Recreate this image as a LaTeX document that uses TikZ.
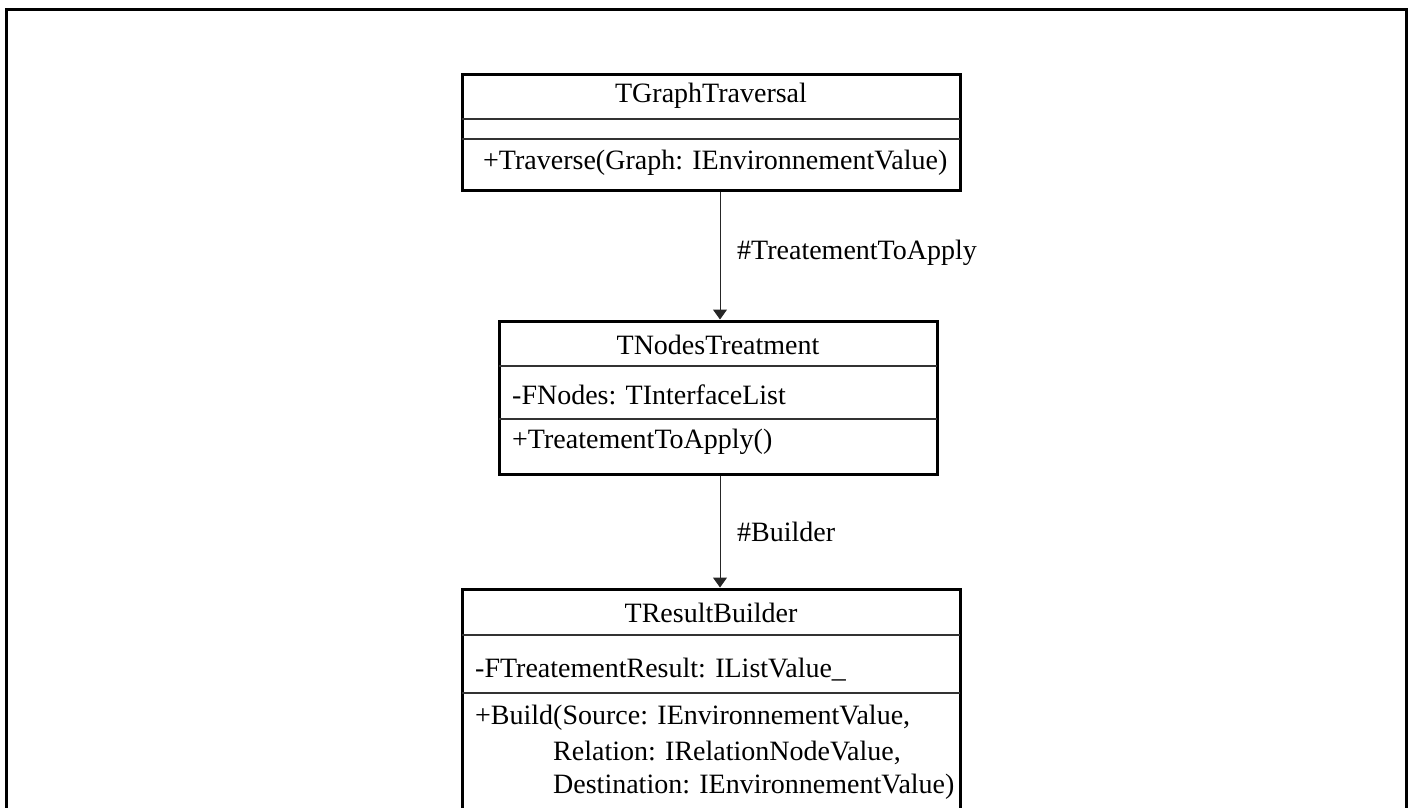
\documentclass[tikz,border=0pt]{standalone}
\usepackage{fontspec}
\setmainfont{Liberation Serif}
\usetikzlibrary{arrows.meta}
\begin{document}
\begin{tikzpicture}[x=1pt,y=-1pt,
  classbox/.style={draw=black,line width=3pt,fill=white,inner sep=0pt,minimum width=#1},
  sepline/.style={draw=black!80,line width=1.1pt},
  txt/.style={inner sep=0pt,font=\fontsize{28}{32}\selectfont},
  assoc/.style={draw=black!85,line width=1pt,-{Triangle[length=10pt,width=14pt]}},
  frame/.style={draw=black,line width=3pt}]
  \useasboundingbox (0,0) rectangle (1410,807);
  % surrounding frame, open at the bottom edge
  \draw[frame] (6,830) -- (6,9) -- (1406,9) -- (1406,830);

  % TGraphTraversal
  \node[classbox=498pt,minimum height=116pt] (trav) at (711,132) {};
  \draw[sepline] (462,119) coordinate (ts1a) -- (960,119) coordinate (ts1b);
  \draw[sepline] (462,139) coordinate (ts2a) -- (960,139) coordinate (ts2b);
  \node[txt] (travname) at (711,96) {TGraphTraversal};
  \node[txt,anchor=west] (travop) at (483,163) {+Traverse(Graph: IEnvironnementValue)};

  % TNodesTreatment
  \node[classbox=438pt,minimum height=153pt] (nodes) at (718,397.5) {};
  \draw[sepline] (499,366) coordinate (ns1a) -- (937,366) coordinate (ns1b);
  \draw[sepline] (499,419) coordinate (ns2a) -- (937,419) coordinate (ns2b);
  \node[txt] (nodesname) at (718,345) {TNodesTreatment};
  \node[txt,anchor=west] (nodesattr) at (512,395) {-FNodes: TInterfaceList};
  \node[txt,anchor=west] (nodesop) at (512,442) {+TreatementToApply()};

  % TResultBuilder
  \node[classbox=498pt,minimum height=240pt] (builder) at (711,709) {};
  \draw[sepline] (462,635) coordinate (bs1a) -- (960,635) coordinate (bs1b);
  \draw[sepline] (462,693) coordinate (bs2a) -- (960,693) coordinate (bs2b);
  \node[txt] (buildername) at (711,613) {TResultBuilder};
  \node[txt,anchor=west] (builderattr) at (475,670) {-FTreatementResult: IListValue\_};
  \node[txt,anchor=west] (builderop1) at (475,718) {+Build(Source: IEnvironnementValue,};
  \node[txt,anchor=west] (builderop2) at (553,753) {Relation: IRelationNodeValue,};
  \node[txt,anchor=west] (builderop3) at (553,787) {Destination: IEnvironnementValue)};

  % associations
  \coordinate (ax) at (720,0);
  \draw[assoc] (trav.south -| ax) -- (nodes.north -| ax);
  \draw[assoc] (nodes.south -| ax) -- (builder.north -| ax);
  \node[txt,anchor=west] (lbl1) at (737,253) {\#TreatementToApply};
  \node[txt,anchor=west] (lbl2) at (737,532) {\#Builder};
\end{tikzpicture}
\end{document}
